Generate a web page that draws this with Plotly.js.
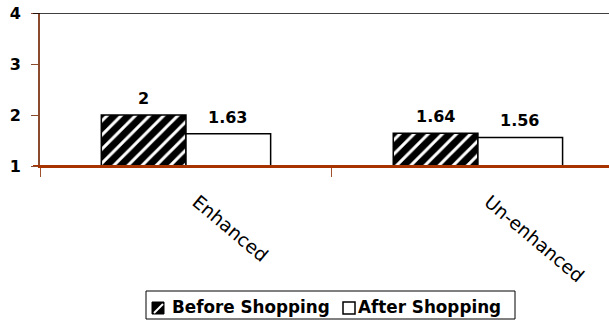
<!DOCTYPE html>
<html>
<head>
<meta charset="utf-8">
<script src="https://cdn.plot.ly/plotly-3.0.1.min.js"></script>
<style>
  html, body { margin: 0; padding: 0; background: #fff; }
  #chart { width: 609px; height: 322px; }
</style>
</head>
<body>
<div id="chart"></div>
<script>
// Shopping condition categories and the two measurement series
const categories = ['Enhanced', 'Un-enhanced'];
const beforeShopping = [2, 1.64];
const afterShopping = [1.63, 1.56];
const seriesNames = ['Before Shopping', 'After Shopping'];
const yTicks = [1, 2, 3, 4];

const FONT = 'DejaVu Sans, Verdana, sans-serif';

// Plot area geometry in pixels (used to place the legend box below the axis)
const W = 609, H = 322;
const M = { l: 40, r: 0, t: 13, b: 156 };
const PW = W - M.l - M.r, PH = H - M.t - M.b;
const px = v => (v - M.l) / PW;          // pixel x -> paper x
const py = v => 1 - (v - M.t) / PH;      // pixel y -> paper y

const traces = [
  {
    type: 'bar',
    name: seriesNames[0],
    x: categories,
    y: beforeShopping,
    marker: {
      color: '#000',
      line: { color: '#000', width: 1.5 },
      pattern: { shape: '/', fgcolor: '#fff', bgcolor: '#000', size: 10, solidity: 0.3, fillmode: 'replace' }
    },
    showlegend: false
  },
  {
    type: 'bar',
    name: seriesNames[1],
    x: categories,
    y: afterShopping,
    marker: { color: '#fff', line: { color: '#000', width: 1.5 } },
    showlegend: false
  }
];

const labelFont = { family: FONT, size: 16, color: '#000', weight: 'bold' };

// Value labels above each bar
const annotations = [];
categories.forEach((c, i) => {
  annotations.push({
    x: c, y: beforeShopping[i], xref: 'x', yref: 'y',
    text: String(beforeShopping[i]), showarrow: false,
    xshift: -42, yshift: 5, yanchor: 'bottom', font: labelFont
  });
  annotations.push({
    x: c, y: afterShopping[i], xref: 'x', yref: 'y',
    text: String(afterShopping[i]), showarrow: false,
    xshift: 42, yshift: 5, yanchor: 'bottom', font: labelFont
  });
});

// Legend entries (boxed, below the category labels)
const legendFont = { family: FONT, size: 16.8, color: '#000', weight: 'bold' };
annotations.push({
  xref: 'paper', yref: 'paper', x: px(170), y: py(307), xanchor: 'left', yanchor: 'middle',
  text: seriesNames[0], showarrow: false, font: legendFont
});
annotations.push({
  xref: 'paper', yref: 'paper', x: px(356), y: py(307), xanchor: 'left', yanchor: 'middle',
  text: seriesNames[1], showarrow: false, font: legendFont
});

const shapes = [
  // top frame line at the axis maximum
  { type: 'line', xref: 'paper', yref: 'y', x0: px(33), x1: 1, y0: 4, y1: 4,
    line: { color: '#000', width: 1.5 } },
  // baseline at y = 1, running out to the left tick
  { type: 'line', xref: 'paper', yref: 'y', x0: px(33), x1: 1, y0: 1, y1: 1,
    line: { color: '#A63300', width: 2 }, layer: 'above' },
  // legend frame
  { type: 'rect', xref: 'paper', yref: 'paper', x0: px(146), x1: px(515), y0: py(291), y1: py(319),
    line: { color: '#000', width: 1 }, fillcolor: 'rgba(0,0,0,0)' },
  // hatched swatch
  { type: 'rect', xref: 'paper', yref: 'paper', x0: px(152), x1: px(164), y0: py(302), y1: py(314),
    line: { color: '#000', width: 1 }, fillcolor: '#000' },
  { type: 'line', xref: 'paper', yref: 'paper', x0: px(154), x1: px(163), y0: py(313), y1: py(304),
    line: { color: '#fff', width: 2 } },
  // hollow swatch
  { type: 'rect', xref: 'paper', yref: 'paper', x0: px(343), x1: px(355), y0: py(302), y1: py(314),
    line: { color: '#000', width: 1.5 }, fillcolor: '#fff' }
];

const layout = {
  width: W,
  height: H,
  margin: M,
  paper_bgcolor: '#fff',
  plot_bgcolor: '#fff',
  barmode: 'group',
  bargap: 0.42,
  bargroupgap: 0,
  showlegend: false,
  xaxis: {
    type: 'category',
    range: [-0.5, 1.449],
    showline: true,
    linecolor: '#A63300',
    linewidth: 2,
    ticks: 'outside',
    tickson: 'boundaries',
    ticklen: 9,
    tickcolor: '#A0522D',
    tickwidth: 1,
    tickangle: 40,
    ticklabelstandoff: 16,
    ticklabelshift: 11,
    tickfont: { family: FONT, size: 18.5, color: '#000' },
    showgrid: false,
    zeroline: false,
    fixedrange: true
  },
  yaxis: {
    range: [1, 4],
    tickvals: yTicks,
    ticktext: yTicks.map(String),
    showline: true,
    linecolor: '#8B4A2B',
    linewidth: 2,
    ticks: 'outside',
    ticklen: 7,
    tickcolor: '#8B4A2B',
    tickwidth: 1,
    ticklabelstandoff: 7,
    tickfont: { family: FONT, size: 16, color: '#000', weight: 'bold' },
    showgrid: false,
    zeroline: false,
    fixedrange: true
  },
  shapes: shapes,
  annotations: annotations
};

Plotly.newPlot('chart', traces, layout, { staticPlot: true, displayModeBar: false });
</script>
</body>
</html>
